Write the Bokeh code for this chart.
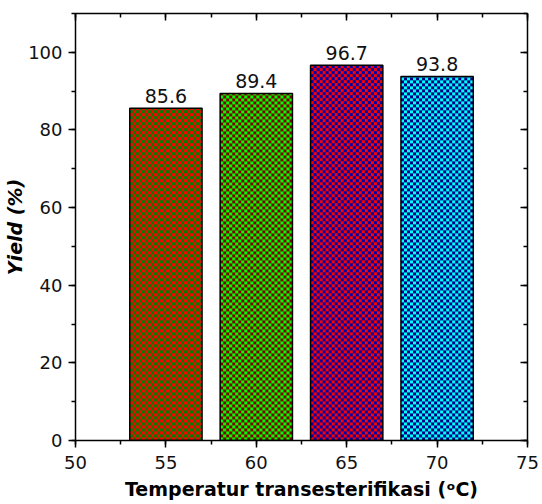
import numpy as np
from bokeh.plotting import figure
from bokeh.models import (ColumnDataSource, LinearAxis, SingleIntervalTicker,
                          Range1d, CustomJSTickFormatter)
from bokeh.core.properties import value
from bokeh.embed import file_html
from bokeh.resources import INLINE

# ---- data ----
temps = [55, 60, 65, 70]
yields = [85.6, 89.4, 96.7, 93.8]
value_labels = ["85.6", "89.4", "96.7", "93.8"]
fill_colors = ["#FF0000", "#00FF00", "#FF0000", "#00FFFF"]
hatch_colors = ["#008000", "#800000", "#0000A8", "#000080"]
x_title = "Temperatur transesterifikasi (ᵒC)"
y_title = "Yield (%)"

FONT = "DejaVu Sans"
BAR_W = 4
X0, X1, Y0, Y1 = 50, 75, 0, 110
FRAME_W, FRAME_H = 452, 427
CELL = 3  # checker cell size in screen pixels

p = figure(width=540, height=504, output_backend="svg", toolbar_location=None,
           x_range=Range1d(X0, X1), y_range=Range1d(Y0, Y1),
           x_axis_type=None, y_axis_type=None,
           min_border_left=75, min_border_right=13,
           min_border_top=13, min_border_bottom=64)
p.xgrid.visible = False
p.ygrid.visible = False
p.outline_line_color = None
p.background_fill_color = "white"
p.border_fill_color = "white"


def hex_rgb(h):
    h = h.lstrip("#")
    return [int(h[i:i + 2], 16) for i in (0, 2, 4)]


def checker(c1, c2, nx, ny):
    yy, xx = np.mgrid[0:ny, 0:nx]
    mask = ((xx // CELL) + (yy // CELL)) % 2 == 0
    img = np.empty((ny, nx), dtype=np.uint32)
    v = img.view(dtype=np.uint8).reshape((ny, nx, 4))
    a, b = hex_rgb(c1), hex_rgb(c2)
    for k in range(3):
        v[..., k] = np.where(mask, a[k], b[k])
    v[..., 3] = 255
    return img


px_x = FRAME_W / (X1 - X0)
px_y = FRAME_H / (Y1 - Y0)
images = [checker(fc, hc, int(round(BAR_W * px_x)), int(round(yv * px_y)))
          for fc, hc, yv in zip(fill_colors, hatch_colors, yields)]

src = ColumnDataSource(dict(x=temps, top=yields, lab=value_labels,
                            left=[t - BAR_W / 2 for t in temps],
                            zero=[0] * len(temps),
                            dw=[BAR_W] * len(temps),
                            img=images))

p.image_rgba(image="img", x="left", y="zero", dw="dw", dh="top", source=src)

p.vbar(x="x", top="top", width=BAR_W, bottom=0, source=src,
       fill_color=None, line_color="black", line_width=1.5)

p.text(x="x", y="top", text="lab", source=src, text_align="center",
       text_baseline="bottom", y_offset=-5, text_font=value(FONT),
       text_font_size="19px", text_color="#111111")

blank = CustomJSTickFormatter(code="return '';")


def style(ax, inward=False, labels=True):
    ax.axis_line_color = "black"
    ax.axis_line_width = 1.5
    ax.major_tick_line_width = 1.5
    ax.minor_tick_line_width = 1.5
    if inward:
        ax.major_tick_in, ax.major_tick_out = 7, 0
        ax.minor_tick_in, ax.minor_tick_out = 4, 0
    else:
        ax.major_tick_in, ax.major_tick_out = 0, 7
        ax.minor_tick_in, ax.minor_tick_out = 0, 4
    ax.major_label_text_font = FONT
    ax.major_label_text_font_size = "18px"
    ax.major_label_text_color = "#111111"
    if not labels:
        ax.formatter = blank
        ax.major_label_standoff = 0
    ax.axis_label_text_font = FONT
    ax.axis_label_text_font_size = "19px"
    ax.axis_label_text_font_style = "bold"
    ax.axis_label_text_color = "black"


xt = SingleIntervalTicker(interval=5, num_minor_ticks=2)
yt = SingleIntervalTicker(interval=20, num_minor_ticks=2)

bottom = LinearAxis(ticker=xt, axis_label=x_title)
style(bottom)
bottom.major_label_standoff = 8
bottom.axis_label_standoff = 6
p.add_layout(bottom, "below")

left = LinearAxis(ticker=yt, axis_label=y_title)
style(left)
left.axis_label_text_font_style = "bold italic"
left.major_label_standoff = 6
left.axis_label_standoff = -1
p.add_layout(left, "left")

top = LinearAxis(ticker=SingleIntervalTicker(interval=5, num_minor_ticks=2))
style(top, inward=True, labels=False)
p.add_layout(top, "above")

right = LinearAxis(ticker=SingleIntervalTicker(interval=20, num_minor_ticks=2))
style(right, inward=True, labels=False)
p.add_layout(right, "right")

open("out.html", "w").write(file_html(p, INLINE))
